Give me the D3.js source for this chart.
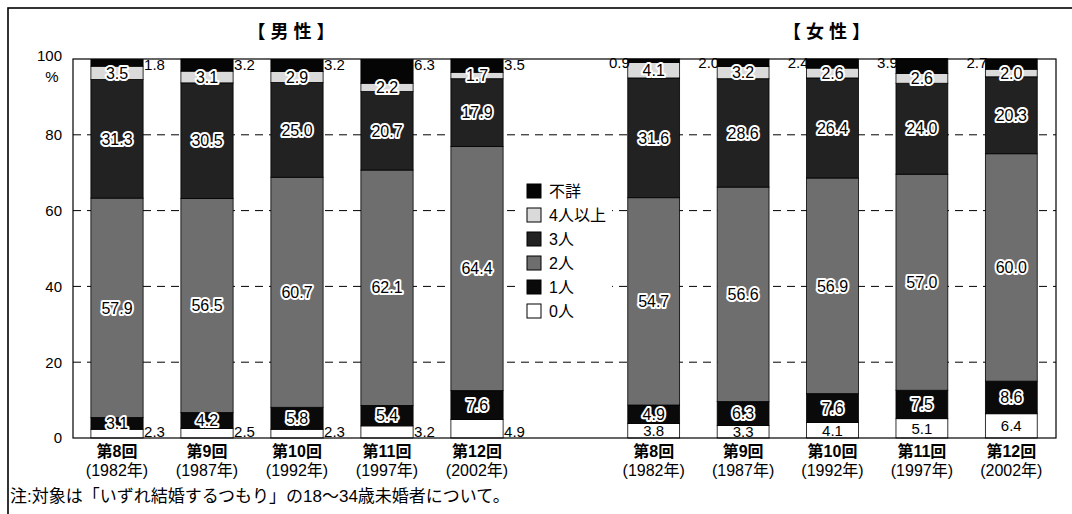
<!DOCTYPE html>
<html>
<head>
<meta charset="utf-8">
<script src="https://cdn.jsdelivr.net/npm/d3@7"></script>
<style>
  html, body { margin: 0; padding: 0; background: #fff; }
  svg { display: block; }
  text { font-family: "Liberation Sans", Arial, "Noto Sans CJK JP", sans-serif; }
  .jp { font-family: "Liberation Sans", Arial, "Noto Sans CJK JP", sans-serif; }
</style>
</head>
<body>
<svg id="chart" width="1072" height="514"></svg>
<script>
// ---- data ----
const rounds = ["第8回", "第9回", "第10回", "第11回", "第12回"];
const years = ["(1982年)", "(1987年)", "(1992年)", "(1997年)", "(2002年)"];
const seriesNames = ["0人", "1人", "2人", "3人", "4人以上", "不詳"];
const legendOrder = ["不詳", "4人以上", "3人", "2人", "1人", "0人"];
const yTicks = [0, 20, 40, 60, 80, 100];
const panelTitles = ["【 男 性 】", "【 女 性 】"];
const note = "注:対象は「いずれ結婚するつもり」の18～34歳未婚者について。";

const male0 = [2.3, 2.5, 2.3, 3.2, 4.9];
const male1 = [3.1, 4.2, 5.8, 5.4, 7.6];
const male2 = [57.9, 56.5, 60.7, 62.1, 64.4];
const male3 = [31.3, 30.5, 25.0, 20.7, 17.9];
const male4 = [3.5, 3.1, 2.9, 2.2, 1.7];
const maleNA = [1.8, 3.2, 3.2, 6.3, 3.5];

const female0 = [3.8, 3.3, 4.1, 5.1, 6.4];
const female1 = [4.9, 6.3, 7.6, 7.5, 8.6];
const female2 = [54.7, 56.6, 56.9, 57.0, 60.0];
const female3 = [31.6, 28.6, 26.4, 24.0, 20.3];
const female4 = [4.1, 3.2, 2.6, 2.6, 2.0];
const femaleNA = [0.9, 2.0, 2.4, 3.9, 2.7];

// ---- build tables ----
function buildRows(arrs) {
  return rounds.map((r, i) => {
    const o = { round: r };
    seriesNames.forEach((s, k) => { o[s] = arrs[k][i]; });
    return o;
  });
}
const maleRows = buildRows([male0, male1, male2, male3, male4, maleNA]);
const femaleRows = buildRows([female0, female1, female2, female3, female4, femaleNA]);

const colors = {
  "0人": "#ffffff",
  "1人": "#0a0a0a",
  "2人": "#6e6e6e",
  "3人": "#222222",
  "4人以上": "#dadada",
  "不詳": "#050505"
};

const svg = d3.select("#chart");
const plotTop = 59, plotBottom = 438, plotLeft = 73, plotRight = 1056;

const y = d3.scaleLinear().domain([0, 100]).range([plotBottom, plotTop]);
const xMale = d3.scaleBand().domain(rounds).range([72, 522]).paddingInner(0.42).paddingOuter(0.21);
const xFemale = d3.scaleBand().domain(rounds).range([609, 1056]).paddingInner(0.42).paddingOuter(0.21);

// outer frame
svg.append("rect").attr("x", 8).attr("y", 8).attr("width", 1100).attr("height", 540)
  .attr("fill", "none").attr("stroke", "#000").attr("stroke-width", 1.6);

// gridlines
svg.append("g").selectAll("line").data(yTicks.filter(t => t > 0 && t < 100)).join("line")
  .attr("x1", plotLeft).attr("x2", plotRight)
  .attr("y1", d => y(d)).attr("y2", d => y(d))
  .attr("stroke", "#000").attr("stroke-width", 1).attr("stroke-dasharray", "8,6");

// legend background (interrupts grid)
const legendG = svg.append("g");
legendG.append("rect").attr("x", 518).attr("y", 176).attr("width", 94).attr("height", 148).attr("fill", "#fff");

// y axis
const yAxis = d3.axisLeft(y).tickValues(yTicks).tickSize(0).tickPadding(11);
const gy = svg.append("g").attr("transform", `translate(${plotLeft},0)`).call(yAxis);
gy.select(".domain").remove();
gy.selectAll("text").attr("font-size", 15).attr("fill", "#000")
  .style("font-family", "'Liberation Sans', Arial, sans-serif");
gy.selectAll(".tick").filter(d => d === 100).select("text").attr("dy", "0.1em");
svg.append("text").attr("x", 52).attr("y", y(100) + 23).attr("text-anchor", "middle")
  .attr("font-size", 15).text("%");

const stack = d3.stack().keys(seriesNames);

function drawPanel(rows, x, isMale, titleText) {
  const series = stack(rows);
  const g = svg.append("g");
  series.forEach(s => {
    g.append("g").selectAll("rect").data(s).join("rect")
      .attr("x", d => x(d.data.round))
      .attr("width", x.bandwidth())
      .attr("y", d => y(d[1]))
      .attr("height", d => y(d[0]) - y(d[1]))
      .attr("fill", colors[s.key])
      .attr("stroke", "#000").attr("stroke-width", 0.8);
  });

  // labels
  const lg = svg.append("g");
  series.forEach(s => {
    const key = s.key;
    s.forEach(d => {
      const v = d.data[key];
      const cx = x(d.data.round) + x.bandwidth() / 2;
      const txt = v.toFixed(1);
      if (key === "0人") {
        if (isMale) {
          lg.append("text").attr("x", x(d.data.round) + x.bandwidth() + 1)
            .attr("y", plotBottom - 1).attr("font-size", 15).text(txt);
        } else {
          const cy = Math.min((y(d[0]) + y(d[1])) / 2, plotBottom - 6);
          lg.append("text").attr("x", cx).attr("y", cy).attr("dy", "0.36em")
            .attr("text-anchor", "middle").attr("font-size", 15).text(txt);
        }
      } else if (key === "不詳") {
        if (isMale) {
          lg.append("text").attr("x", x(d.data.round) + x.bandwidth() + 1)
            .attr("y", y(100) + 6).attr("dy", "0.36em").attr("font-size", 15).text(txt);
        } else {
          lg.append("text").attr("x", x(d.data.round) + 2)
            .attr("y", y(100) + 4).attr("dy", "0.36em").attr("text-anchor", "end")
            .attr("font-size", 15).text(txt);
        }
      } else {
        lg.append("text").attr("x", cx).attr("y", (y(d[0]) + y(d[1])) / 2).attr("dy", "0.36em")
          .attr("text-anchor", "middle").attr("font-size", 16)
          .attr("fill", "#000").attr("stroke", "#fff").attr("stroke-width", 4)
          .attr("stroke-linejoin", "round").style("paint-order", "stroke")
          .text(txt);
      }
    });
  });

  // category labels
  const cg = svg.append("g");
  rounds.forEach((r, i) => {
    const cx = x(r) + x.bandwidth() / 2;
    cg.append("text").attr("class", "jp").attr("x", cx).attr("y", 457).attr("text-anchor", "middle")
      .attr("font-size", 16).attr("font-weight", "bold").text(r);
    cg.append("text").attr("class", "jp").attr("x", cx).attr("y", 476).attr("text-anchor", "middle")
      .attr("font-size", 16).text(years[i]);
  });

  // title
  const r = x.range();
  svg.append("text").attr("class", "jp").attr("x", (r[0] + r[1]) / 2 - 6).attr("y", 38)
    .attr("text-anchor", "middle").attr("font-size", 18).attr("font-weight", "bold").text(titleText);
}

drawPanel(maleRows, xMale, true, panelTitles[0]);
drawPanel(femaleRows, xFemale, false, panelTitles[1]);

// plot frame
svg.append("rect").attr("x", plotLeft).attr("y", plotTop)
  .attr("width", plotRight - plotLeft).attr("height", plotBottom - plotTop)
  .attr("fill", "none").attr("stroke", "#000").attr("stroke-width", 1.2);

// legend
legendOrder.forEach((name, i) => {
  const cy = 191 + i * 24;
  legendG.append("rect").attr("x", 527).attr("y", cy - 7).attr("width", 14).attr("height", 14)
    .attr("fill", colors[name]).attr("stroke", "#000").attr("stroke-width", 1);
  legendG.append("text").attr("class", "jp").attr("x", 549).attr("y", cy).attr("dy", "0.36em")
    .attr("font-size", 16).text(name);
});

// note
svg.append("text").attr("class", "jp").attr("x", 10).attr("y", 502).attr("font-size", 17).text(note);
</script>
</body>
</html>
